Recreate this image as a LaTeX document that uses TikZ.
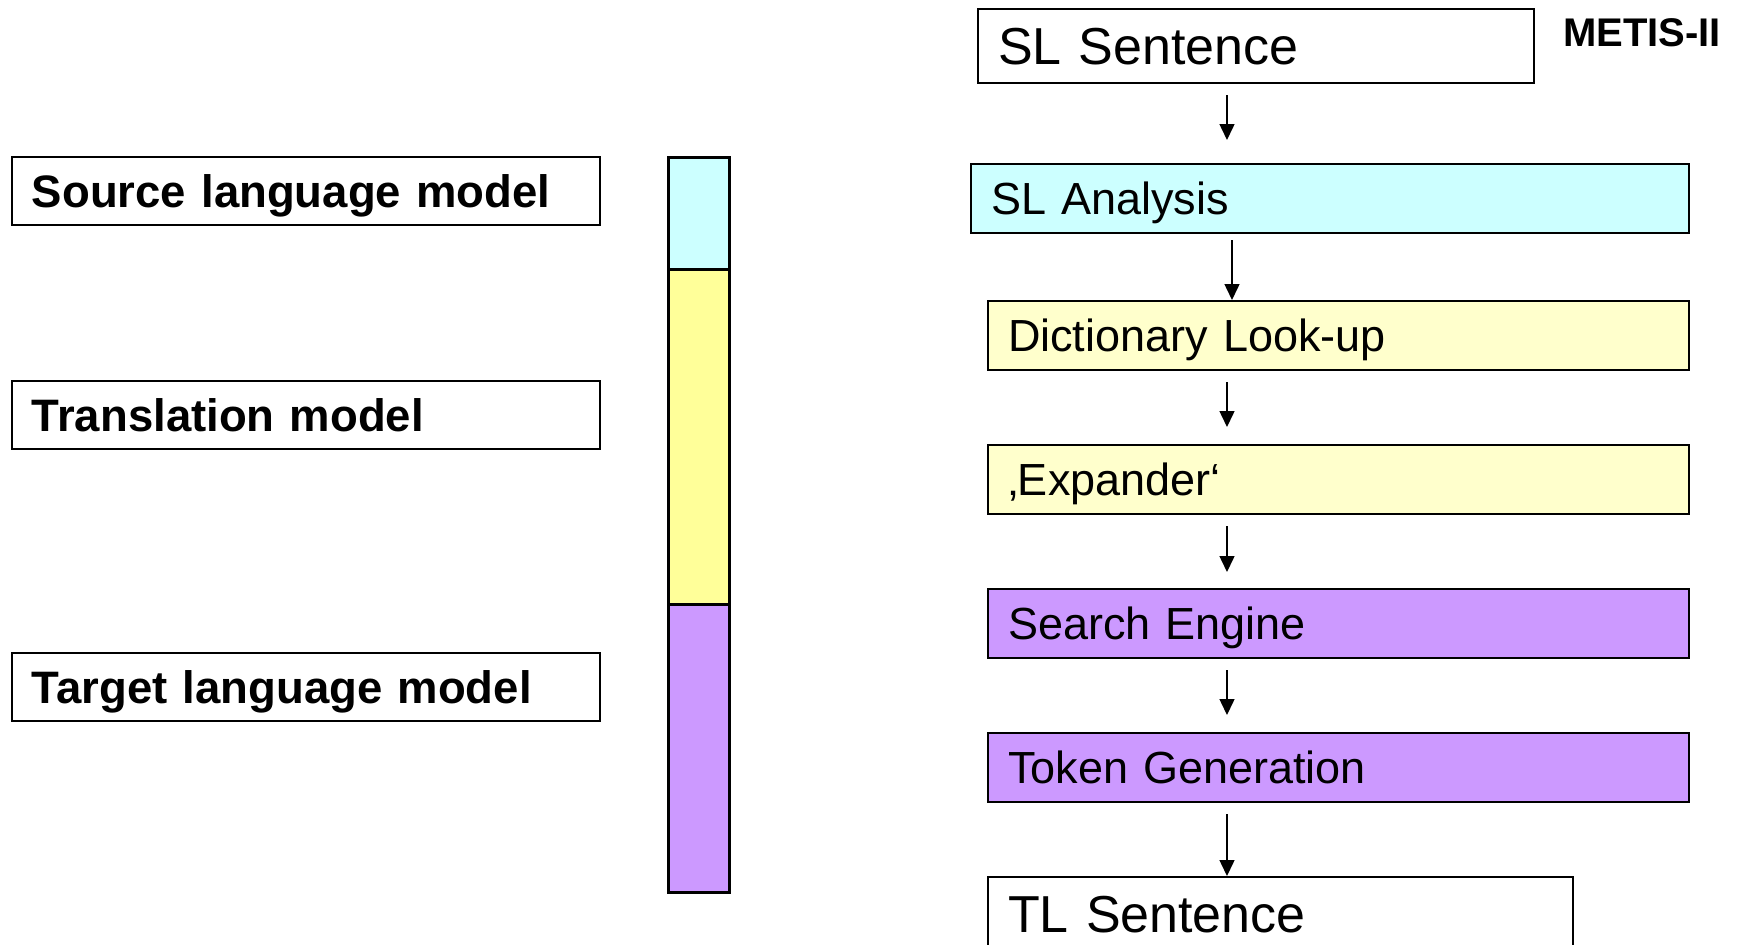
\documentclass[tikz,border=0pt]{standalone}
\usepackage{fontspec}
\setmainfont{Liberation Sans}
\usetikzlibrary{arrows.meta}
\definecolor{cyanfill}{HTML}{CCFFFF}
\definecolor{barYellow}{HTML}{FFFF99}
\definecolor{boxYellow}{HTML}{FFFFCC}
\definecolor{purpfill}{HTML}{CC99FF}
\tikzset{
 basebox/.style={draw=black, line width=1pt, anchor=north west, inner xsep=10pt, inner ysep=0pt, align=left, text depth=0pt},
 lbl/.style={basebox, font=\fontsize{22.75pt}{26pt}\selectfont\bfseries, text height=16.3pt, minimum width=294pt, text width=274pt, minimum height=34pt},
 stage/.style={basebox, font=\fontsize{22.5pt}{26pt}\selectfont, text height=16.1pt, minimum height=34.5pt},
 sent/.style={basebox, font=\fontsize{26pt}{30pt}\selectfont, text height=18.2pt, minimum height=37pt},
 arr/.style={-{Triangle[length=8pt,width=7.5pt]}, line width=0.75pt},
 barseg/.style={draw=black, line width=1.3pt, minimum width=30.5pt, anchor=north west, inner sep=0pt}
}
\begin{document}
\begin{tikzpicture}[x=0.5pt,y=-0.5pt]
\useasboundingbox[fill=white] (0,0) rectangle (1737,944);
% left labels
\node[lbl] (src) at (11,156) {Source language model};
\node[lbl] (trm) at (11,380) {Translation model};
\node[lbl] (tgt) at (11,652) {Target language model};
% bar
\node[barseg, fill=cyanfill, minimum height=56pt] (barc) at (667,156) {};
\node[barseg, fill=barYellow, minimum height=167.5pt] (bary) at (667,268) {};
\node[barseg, fill=purpfill, minimum height=144pt] (barp) at (667,603) {};
% pipeline
\node[sent, minimum width=278pt, text width=258pt] (sls) at (977,8) {SL Sentence};
\node[stage, fill=cyanfill, minimum width=359pt, text width=339pt] (sla) at (970,163) {SL Analysis};
\node[stage, fill=boxYellow, minimum width=350.5pt, text width=330.5pt] (dict) at (987,300) {Dictionary Look-up};
\node[stage, fill=boxYellow, minimum width=350.5pt, text width=330.5pt] (exp) at (987,444) {‚Expander‘};
\node[stage, fill=purpfill, minimum width=350.5pt, text width=330.5pt] (se) at (987,588) {Search Engine};
\node[stage, fill=purpfill, minimum width=350.5pt, text width=330.5pt] (tg) at (987,732) {Token Generation};
\node[sent, minimum width=292.5pt, text width=272.5pt] (tls) at (987,876) {TL Sentence};
\node[font=\fontsize{20pt}{23pt}\selectfont\bfseries, inner sep=0pt] (metis) at (1642,33) {METIS-II};
% arrows
\coordinate (ax) at (1227,0);
\coordinate (ax2) at (1232,0);
\draw[arr, shorten <=5.5pt, shorten >=11.5pt] (sls.south -| ax) -- (sla.north -| ax);
\draw[arr, shorten <=3pt] (sla.south -| ax2) -- (dict.north -| ax2);
\draw[arr, shorten <=5.5pt, shorten >=8.5pt] (dict.south -| ax) -- (exp.north -| ax);
\draw[arr, shorten <=5.5pt, shorten >=8pt] (exp.south -| ax) -- (se.north -| ax);
\draw[arr, shorten <=5.5pt, shorten >=8.5pt] (se.south -| ax) -- (tg.north -| ax);
\draw[arr, shorten <=5.5pt] (tg.south -| ax) -- (tls.north -| ax);
\end{tikzpicture}
\end{document}
